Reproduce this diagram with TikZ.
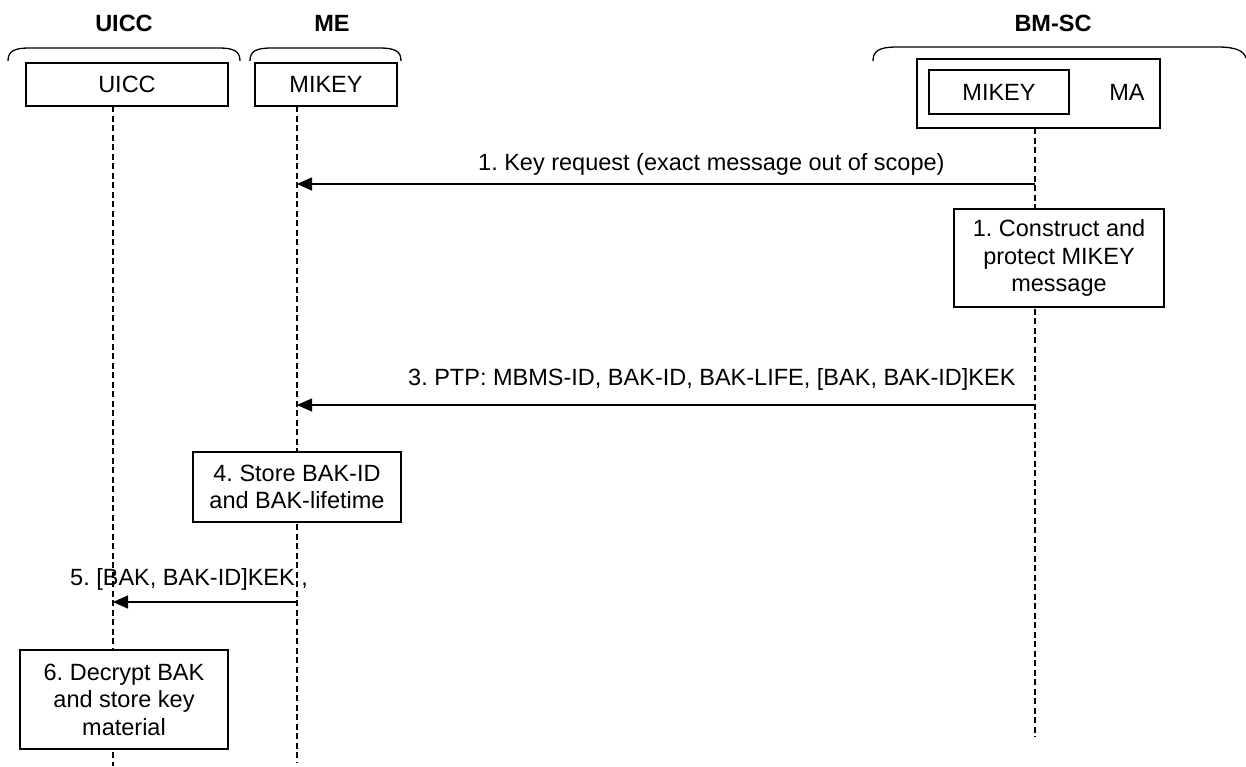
\documentclass[tikz,border=0pt]{standalone}
\usepackage{fontspec}
\setmainfont{Liberation Sans}
\usetikzlibrary{arrows.meta,backgrounds}
\begin{document}
\frenchspacing
\begin{tikzpicture}[x=1pt,y=-1pt,
  every node/.style={font=\fontsize{23.5}{27.5}\selectfont, inner sep=0pt},
  box/.style={draw, line width=1.3pt, fill=white, align=center},
  header/.style={font=\fontsize{23.5}{27.5}\selectfont\bfseries},
  lifeline/.style={line width=1.2pt, dash pattern=on 6pt off 3.5pt},
  msg/.style={line width=1.3pt, -{Triangle[length=15pt,width=13pt]}},
  grp/.style={line width=1.3pt}]
\useasboundingbox (0,0) rectangle (1246,766);

% entity headers
\node[header] (hUicc) at (124,23) {UICC};
\node[header] (hMe)   at (332,23) {ME};
\node[header] (hBmsc) at (1053,23) {BM-SC};

% group braces
\draw[grp] (8,61) .. controls (8,51) and (14,48) .. (30,48) -- (218,48)
  .. controls (234,48) and (240,51) .. (240,61);
\draw[grp] (250,61) .. controls (250,51) and (256,48) .. (272,48) -- (379,48)
  .. controls (395,48) and (401,51) .. (401,61);
\draw[grp] (873,61) .. controls (873,51) and (879,47) .. (897,47) -- (1218,47)
  .. controls (1236,47) and (1244,51) .. (1246,58);

% entity boxes
\node[box, minimum width=202pt, minimum height=43pt] (uicc) at (127,84.5) {UICC};
\node[box, minimum width=142pt, minimum height=43pt] (me) at (326,84.5) {MIKEY};
\node[box, minimum width=243pt, minimum height=69pt] (bmsc) at (1038.5,93.5) {};
\node[box, minimum width=140pt, minimum height=44pt] (bmikey) at (999,92) {MIKEY};
\node (ma) at (1127,92) {MA};

% lifeline end points
\coordinate (uTop) at (113,106);
\coordinate (uBot) at (113,766);
\coordinate (mTop) at (297,106);
\coordinate (mBot) at (297,762);
\coordinate (bTop) at (1035,128);
\coordinate (bBot) at (1035,737);

% processing steps
\node[box, minimum width=210pt, minimum height=98pt] (step1) at (1059,258)
  {1. Construct and\\protect MIKEY\\message};
\node[box, minimum width=208pt, minimum height=70pt] (step4) at (297,487)
  {4. Store BAK-ID\\and BAK-lifetime};
\node[box, minimum width=208pt, minimum height=99pt] (step6) at (124,699.5)
  {6. Decrypt BAK\\and store key\\material};

\begin{scope}[on background layer]
  \draw[lifeline] (uTop) -- (uBot);
  \draw[lifeline] (mTop) -- (mBot);
  \draw[lifeline] (bTop) -- (bBot);
\end{scope}

% messages
\coordinate (b1) at (1035,184);
\coordinate (m1) at (297,184);
\coordinate (b3) at (1035,405);
\coordinate (m3) at (297,405);
\coordinate (m5) at (297,602);
\coordinate (u5) at (113,602);

\draw[msg] (b1) -- (m1);
\node[anchor=base west] (l1) at (478,170) {1. Key request (exact message out of scope)};
\draw[msg] (b3) -- (m3);
\node[anchor=base west] (l3) at (408,385) {3. PTP: MBMS-ID, BAK-ID, BAK-LIFE, [BAK, BAK-ID]KEK};
\draw[msg] (m5) -- (u5);
\node[anchor=base west] (l5) at (70,585) {5. [BAK, BAK-ID]KEK ,};
\end{tikzpicture}
\end{document}
